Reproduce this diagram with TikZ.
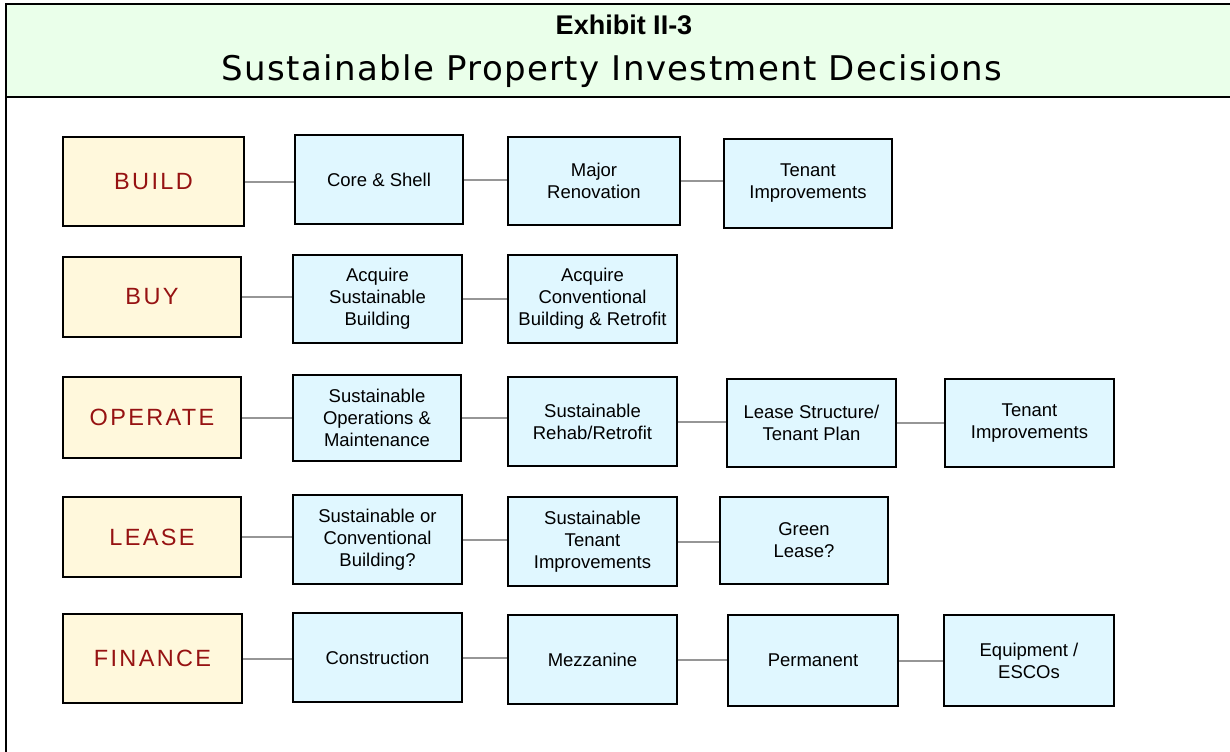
\documentclass[tikz,border=0pt]{standalone}
\usepackage{fontspec}
\setmainfont{Liberation Sans}
\newfontfamily\titlefont[LetterSpace=4]{DejaVu Sans}
\newfontfamily\labelfont[LetterSpace=10]{Liberation Sans}
\definecolor{headfill}{RGB}{234,255,234}
\definecolor{catfill}{RGB}{255,248,220}
\definecolor{optfill}{RGB}{224,247,255}
\definecolor{cattext}{RGB}{150,18,18}
\definecolor{conn}{RGB}{150,150,150}
\tikzset{
  catbox/.style={draw=black, line width=1.8bp, fill=catfill, inner sep=0pt,
    font=\labelfont\fontsize{23.5bp}{28bp}\selectfont, text=cattext},
  optbox/.style={draw=black, line width=1.8bp, fill=optfill, inner sep=0pt,
    align=center, font=\fontsize{18.5bp}{22bp}\selectfont},
  link/.style={draw=conn, line width=2bp},
  frameline/.style={line width=2.5bp, draw=black}
}
\begin{document}
\begin{tikzpicture}[x=1bp, y=-1bp]
\useasboundingbox (0,0) rectangle (1230,752);
% header
\fill[headfill] (6,4) rectangle (1230,97);
\draw[frameline] (1230,4) -- (6,4) -- (6,752);
\draw[frameline] (6,97) -- (1230,97);
\node[anchor=base, font=\bfseries\fontsize{27bp}{30bp}\selectfont] (exh) at (624,35) {Exhibit II-3};
\node[anchor=base, font=\titlefont\fontsize{34bp}{38bp}\selectfont] (ttl) at (612,81) {Sustainable Property Investment Decisions};

% category boxes
\node[catbox, minimum width=181bp, minimum height=89bp] (build) at (153.5,181.5) {BUILD};
\node[catbox, minimum width=178bp, minimum height=80bp] (buy) at (152,297) {BUY};
\node[catbox, minimum width=178bp, minimum height=81bp] (operate) at (152,417.5) {OPERATE};
\node[catbox, minimum width=178bp, minimum height=80bp] (lease) at (152,537) {LEASE};
\node[catbox, minimum width=179bp, minimum height=89bp] (finance) at (152.5,658.5) {FINANCE};

% row 1
\node[optbox, minimum width=168bp, minimum height=89bp] (core) at (379,179.5) {Core \& Shell};
\node[optbox, minimum width=172bp, minimum height=88bp] (major) at (594,181) {Major\\Renovation};
\node[optbox, minimum width=168bp, minimum height=89bp] (tenA) at (808,183.5) {Tenant\\Improvements};
% row 2
\node[optbox, minimum width=169bp, minimum height=88bp] (acqs) at (377.5,299) {Acquire\\Sustainable\\Building};
\node[optbox, minimum width=169bp, minimum height=88bp] (acqc) at (592.5,299) {Acquire\\Conventional\\Building \& Retrofit};
% row 3
\node[optbox, minimum width=168bp, minimum height=86bp] (sops) at (377,418) {Sustainable\\Operations \&\\Maintenance};
\node[optbox, minimum width=169bp, minimum height=89bp] (rehab) at (592.5,421.5) {Sustainable\\Rehab/Retrofit};
\node[optbox, minimum width=169bp, minimum height=88bp] (lstr) at (811.5,423) {Lease Structure/\\Tenant Plan};
\node[optbox, minimum width=169bp, minimum height=88bp] (tenB) at (1029.5,423) {Tenant\\Improvements};
% row 4
\node[optbox, minimum width=169bp, minimum height=89bp] (soc) at (377.5,539.5) {Sustainable or\\Conventional\\Building?};
\node[optbox, minimum width=169bp, minimum height=89bp] (sten) at (592.5,541.5) {Sustainable\\Tenant\\Improvements};
\node[optbox, minimum width=168bp, minimum height=87bp] (green) at (804,540.5) {Green\\Lease?};
% row 5
\node[optbox, minimum width=169bp, minimum height=89bp] (constr) at (377.5,657.5) {Construction};
\node[optbox, minimum width=169bp, minimum height=89bp] (mezz) at (592.5,659.5) {Mezzanine};
\node[optbox, minimum width=170bp, minimum height=91bp] (perm) at (813,660.5) {Permanent};
\node[optbox, minimum width=170bp, minimum height=91bp] (equip) at (1029,660.5) {Equipment /\\ESCOs};

% connectors
\draw[link] (build.east) -- (build.east -| core.west);
\draw[link] (core.east) -- (core.east -| major.west);
\draw[link] (major.east) -- (major.east -| tenA.west);
\draw[link] (buy.east) -- (buy.east -| acqs.west);
\draw[link] (acqs.east) -- (acqs.east -| acqc.west);
\draw[link] (operate.east) -- (operate.east -| sops.west);
\draw[link] (sops.east) -- (sops.east -| rehab.west);
\draw[link] (rehab.east) -- (rehab.east -| lstr.west);
\draw[link] (lstr.east) -- (lstr.east -| tenB.west);
\draw[link] (lease.east) -- (lease.east -| soc.west);
\draw[link] (soc.east) -- (soc.east -| sten.west);
\draw[link] (sten.east) -- (sten.east -| green.west);
\draw[link] (finance.east) -- (finance.east -| constr.west);
\draw[link] (constr.east) -- (constr.east -| mezz.west);
\draw[link] (mezz.east) -- (mezz.east -| perm.west);
\draw[link] (perm.east) -- (perm.east -| equip.west);
\end{tikzpicture}
\end{document}
